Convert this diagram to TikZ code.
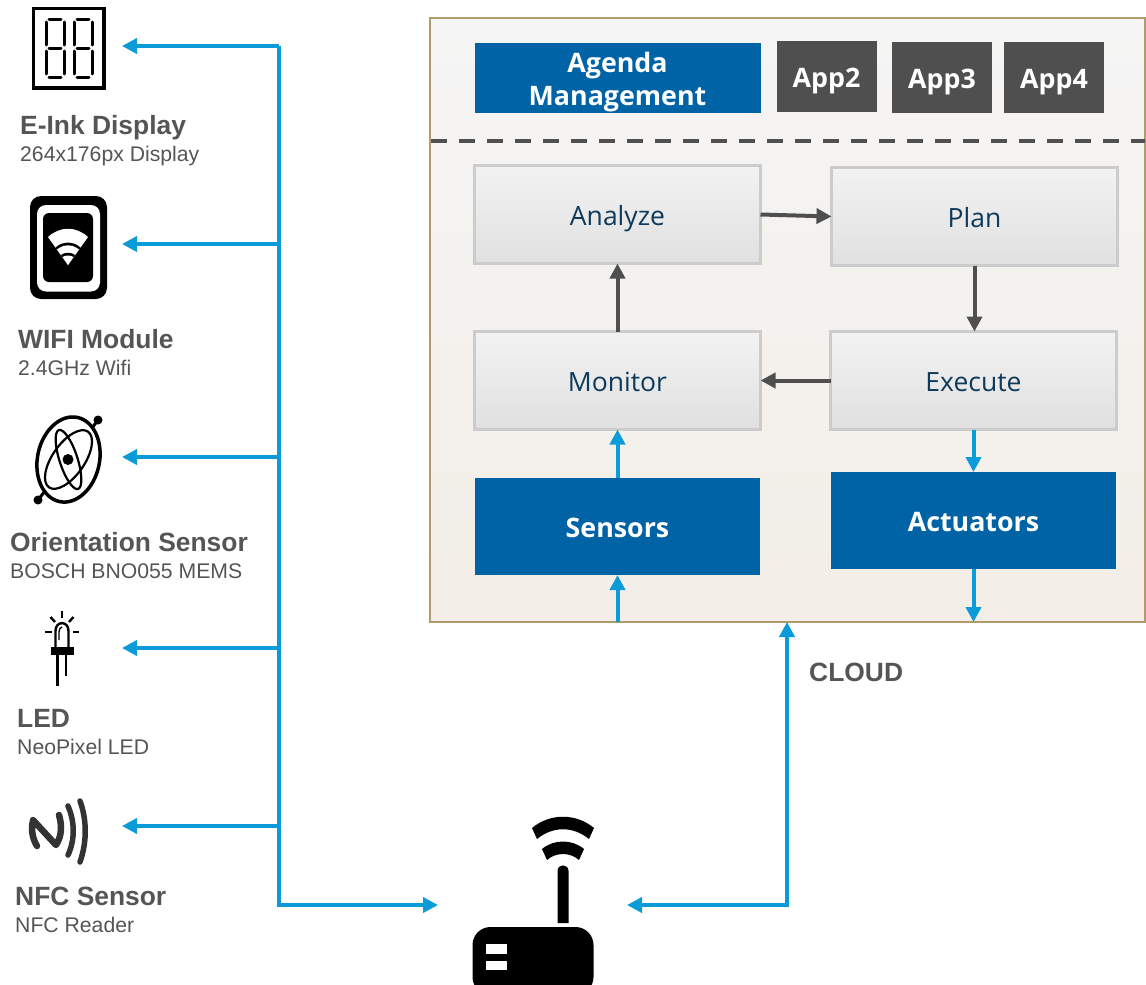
\documentclass[tikz,border=0pt]{standalone}
\usepackage{fontspec}
\setmainfont{Liberation Sans}
\newfontfamily\boxfont{Open Sans}
\usetikzlibrary{arrows.meta}
\definecolor{busblue}{HTML}{0A9BD8}
\definecolor{boxblue}{HTML}{0063A6}
\definecolor{appgrey}{HTML}{4F4F4F}
\definecolor{labelgrey}{HTML}{555555}
\definecolor{boxtext}{HTML}{0E3A5C}
\definecolor{frametan}{HTML}{B09B6B}
\definecolor{framelight}{HTML}{F5F5F5}
\definecolor{framewarm}{HTML}{F3EEE7}
\begin{document}
\begin{tikzpicture}[x=1pt,y=-1pt,
  frame/.style={draw=frametan,line width=2.5pt,top color=framelight,bottom color=framewarm,minimum width=715pt,minimum height=604pt,outer sep=0pt},
  block/.style={inner sep=0pt,outer sep=0pt,align=center,text height=24pt,text depth=3pt},
  loopbox/.style={block,font=\boxfont\fontsize{26.5}{32}\selectfont,draw=black!20,line width=2.5pt,top color=black!5,bottom color=black!12,text=boxtext,minimum width=286pt,minimum height=98pt},
  hwbox/.style={block,fill=boxblue,text=white,font=\boxfont\bfseries\fontsize{26.8}{32.3}\selectfont,minimum width=285pt,minimum height=97pt},
  appbox/.style={block,fill=appgrey,text=white,font=\boxfont\bfseries\fontsize{26.8}{32.3}\selectfont,minimum width=100pt,minimum height=71pt},
  title/.style={anchor=base west,inner sep=0pt,text=labelgrey,font=\bfseries\fontsize{26.4}{30}\selectfont},
  subtitle/.style={anchor=base west,inner sep=0pt,text=labelgrey,font=\fontsize{21.2}{25}\selectfont},
  busarrow/.style={draw=busblue,line width=4pt,-{Triangle[length=15pt,width=15pt]}},
  looparrow/.style={draw=appgrey,line width=4pt,-{Triangle[length=15pt,width=15pt]}},
  segment/.style={line width=3pt,line cap=round},
  thinline/.style={line width=2.2pt},
  ledline/.style={line width=2.4pt},
  nfcline/.style={draw=black!80,line cap=round,line join=round}]
\useasboundingbox (0,0) rectangle (1146,985);

\node[frame] (cloud) at (787.5,320) {};
\coordinate (dashW) at (431,141);
\coordinate (dashE) at (1145,141);
\draw[appgrey,line width=4pt,dash pattern=on 16pt off 12pt] (dashW) -- (dashE);

\node[hwbox,minimum height=70pt,minimum width=286pt,text height=57pt] (agenda) at (617.5,78) {Agenda\\Management};
\node[appbox] (app2) at (826.5,76.5) {App2};
\node[appbox] (app3) at (942,77.5) {App3};
\node[appbox] (app4) at (1054,77.5) {App4};

\node[loopbox] (analyze) at (617.5,214.5) {Analyze};
\node[loopbox] (plan) at (974.5,216.5) {Plan};
\node[loopbox] (monitor) at (617.5,380.5) {Monitor};
\node[loopbox] (execute) at (973.5,380.5) {Execute};
\node[hwbox] (sensors) at (617.5,526.5) {Sensors};
\node[hwbox] (actuators) at (973.5,520.5) {Actuators};

\draw[looparrow] (analyze.east) -- (plan.west);
\draw[looparrow] (plan.south) -- (plan.south |- execute.north);
\draw[looparrow] (execute.west) -- (monitor.east);
\draw[looparrow] (monitor.north) -- (analyze.south);
\draw[busarrow] (sensors.north) -- (monitor.south);
\draw[busarrow] (execute.south) -- (actuators.north);
\draw[busarrow] (sensors |- cloud.south) -- (sensors.south);
\draw[busarrow] (actuators.south) -- (actuators |- cloud.south);

\coordinate (busTop) at (279,46);
\coordinate (busBot) at (279,905);
\coordinate (routerW) at (438,905);
\coordinate (routerE) at (627,905);
\coordinate (cloudIn) at (787,622);
\draw[busarrow,{Triangle[length=15pt,width=15pt]}-{Triangle[length=15pt,width=15pt]}] (routerE) -| (cloudIn);
\draw[busarrow] (busTop) -- (busBot) -- (routerW);

\foreach \name/\yy in {display/46,wifi/244,gyro/457,led/648,nfc/826}{
  \coordinate (\name Tip) at (122,\yy);
  \coordinate (\name Bus) at (279,\yy);
  \draw[busarrow] (\name Bus) -- (\name Tip);
}

\node[title] (displayT) at (20,134) {E-Ink Display};
\node[subtitle] (displayS) at (20,161) {264x176px Display};
\node[title] (wifiT) at (18,348) {WIFI Module};
\node[subtitle] (wifiS) at (18,375) {2.4GHz Wifi};
\node[title] (gyroT) at (10,551) {Orientation Sensor};
\node[subtitle] (gyroS) at (10,578) {BOSCH BNO055 MEMS};
\node[title] (ledT) at (17,727) {LED};
\node[subtitle] (ledS) at (17,754) {NeoPixel LED};
\node[title] (nfcT) at (15,905) {NFC Sensor};
\node[subtitle] (nfcS) at (15,932) {NFC Reader};
\node[title] (cloudT) at (809,681) {CLOUD};

\draw[line width=3.5pt] (33.5,8.5) rectangle (104,88);
\foreach \dx in {0,28}{
  \draw[segment] (49+\dx,19) -- (61+\dx,19);
  \draw[segment] (49+\dx,48) -- (61+\dx,48);
  \draw[segment] (49+\dx,77) -- (61+\dx,77);
  \draw[segment] (46+\dx,22) -- (46+\dx,45);
  \draw[segment] (46+\dx,51) -- (46+\dx,74);
  \draw[segment] (64+\dx,22) -- (64+\dx,45);
  \draw[segment] (64+\dx,51) -- (64+\dx,74);
}

\fill[rounded corners=11pt] (30,196) rectangle (107,299);
\fill[white,rounded corners=9pt] (37,205) rectangle (100,291.5);
\fill[rounded corners=6pt] (43,213) rectangle (93,282);
\fill[white] (68,265) -- (48,237) .. controls (60,226) and (76,226) .. (88,237) -- cycle;
\fill (68,265) -- (55.5,247.5) .. controls (63,241) and (73,241) .. (80.5,247.5) -- cycle;
\fill[white] (68,265) -- (57,249.5) .. controls (64,244) and (72,244) .. (79,249.5) -- cycle;
\fill (68,265) -- (61,255) .. controls (65,252) and (71,252) .. (75,255) -- cycle;
\fill[white] (68,265) -- (62.5,257) .. controls (65.5,255) and (70.5,255) .. (73.5,257) -- cycle;

\draw[line width=3.5pt,rotate around={-12:(68.5,459.5)}] (68.5,459.5) ellipse [x radius=31,y radius=43];
\draw[line width=3pt] (98,420) -- (92,428);
\draw[line width=3pt] (38,500) -- (45,491);
\fill (98,420) circle [radius=4.5];
\fill (38,500) circle [radius=4.5];
\fill (68,459.5) circle [radius=5.5];
\draw[thinline,rotate around={18:(68.5,459.5)}] (68.5,459.5) ellipse [x radius=9,y radius=31];
\draw[thinline,rotate around={-35:(68.5,459.5)}] (68.5,459.5) ellipse [x radius=16,y radius=34];

\draw[ledline] (55.5,647) -- (55.5,631) .. controls (55.5,620.5) and (68.5,620.5) .. (68.5,631) -- (68.5,647);
\draw[line width=1.4pt] (59,640) -- (59,632) .. controls (59,629) and (60,628) .. (62,627);
\draw[ledline,fill=black] (52.5,648) rectangle (72.5,654);
\draw[ledline] (57.5,655) -- (57.5,686);
\draw[ledline] (66,655) -- (66,676);
\draw[ledline] (62,611) -- (62,618);
\draw[ledline] (50.5,617) -- (55,622);
\draw[ledline] (73.5,617) -- (69,622);
\draw[ledline] (45,632) -- (52,632);
\draw[ledline] (73,632) -- (79,632);

\draw[nfcline,line width=6.5pt] (33,821) .. controls (31,828) and (32,838) .. (37,846) (33,820) -- (56,845) .. controls (62,836) and (62,825) .. (59,815);
\draw[nfcline,line width=5.5pt] (68,806) .. controls (75,822) and (75,840) .. (68,855);
\draw[nfcline,line width=5.5pt] (80,801) .. controls (87,820) and (87,842) .. (80,862);

\begin{scope}
\clip (0,0) rectangle (1146,985);
\fill[rounded corners=18pt] (472.5,927) rectangle (593.5,995);
\end{scope}
\fill[white] (486,944) rectangle (507,954);
\fill[white] (486,961) rectangle (507,970);
\fill (557.5,923) -- (557.5,871) .. controls (557.5,863.5) and (568.5,863.5) .. (568.5,871) -- (568.5,923) -- cycle;
\fill (532,828) .. controls (550,813) and (576,813) .. (594,828) -- (589,839) .. controls (573,826) and (553,826) .. (537,839) -- cycle;
\fill (542,849) .. controls (554,839) and (572,839) .. (584,849) -- (579,860) .. controls (570,852) and (556,852) .. (547,860) -- cycle;
\end{tikzpicture}
\end{document}
